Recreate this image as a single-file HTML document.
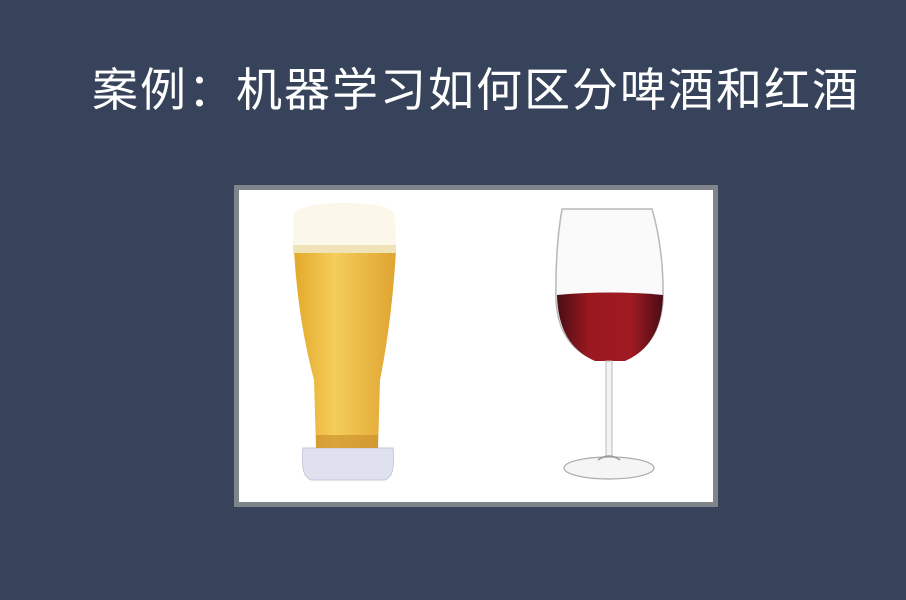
<!DOCTYPE html>
<html><head><meta charset="utf-8">
<style>
html,body{margin:0;padding:0}
body{width:906px;height:600px;background:#36435a;position:relative;overflow:hidden;font-family:"Liberation Sans","Noto Sans CJK SC",sans-serif}
#title{position:absolute;left:92px;top:62px;color:#fff;font-size:46px;letter-spacing:2px;white-space:nowrap;line-height:56px}
#frame{position:absolute;left:234px;top:185px;width:474px;height:312px;border:5px solid #7f848b;background:#fff}
</style></head><body>
<div id="title">案例：机器学习如何区分啤酒和红酒</div>
<div id="frame">
<svg width="474" height="312" viewBox="239 190 474 312">
<defs>
<linearGradient id="beer" x1="0" x2="1"><stop offset="0" stop-color="#e3a92a"/><stop offset="0.4" stop-color="#f4cd5a"/><stop offset="1" stop-color="#e0a431"/></linearGradient>
<linearGradient id="wine" x1="0" x2="1"><stop offset="0" stop-color="#4a0d16"/><stop offset="0.3" stop-color="#9a1820"/><stop offset="0.7" stop-color="#a01a22"/><stop offset="1" stop-color="#4a0d16"/></linearGradient>
</defs>
<g>
<path d="M303,448 Q300,478 312,480 L384,480 Q396,478 393,448 Z" fill="#dfe2ee" stroke="#c4c8d8"/>
<path d="M294,250 L396,250 Q392,320 380,380 L378,448 L316,448 L314,380 Q298,320 294,250 Z" fill="url(#beer)"/>
<path d="M316,435 L378,435 L378,448 L316,448 Z" fill="#c8882a" opacity="0.6"/>
<path d="M293,252 L293,215 Q300,203 345,203 Q390,203 395,215 L396,252 Z" fill="#fbf7ea"/>
<path d="M293,245 L396,245 L396,253 L293,253 Z" fill="#f1e3b8"/>
</g>
<g>
<path d="M562,209 L652,209 Q664,250 663,300 Q660,345 625,360 L595,360 Q558,345 556,300 Q555,250 562,209 Z" fill="#fafafa" stroke="#b8b8b8" stroke-width="1.5"/>
<path d="M557,295 Q610,290 663,295 Q662,345 625,361 L595,361 Q558,345 557,295 Z" fill="url(#wine)"/>
<rect x="606" y="361" width="6" height="95" fill="#f3f3f3" stroke="#bbb" stroke-width="1"/>
<ellipse cx="609" cy="468" rx="45" ry="11" fill="#f5f5f5" stroke="#aaa" stroke-width="1.2"/>
<path d="M598,460 Q609,452 620,460" fill="none" stroke="#999" stroke-width="1.5"/>
</g>
</svg>
</div>
</body></html>
